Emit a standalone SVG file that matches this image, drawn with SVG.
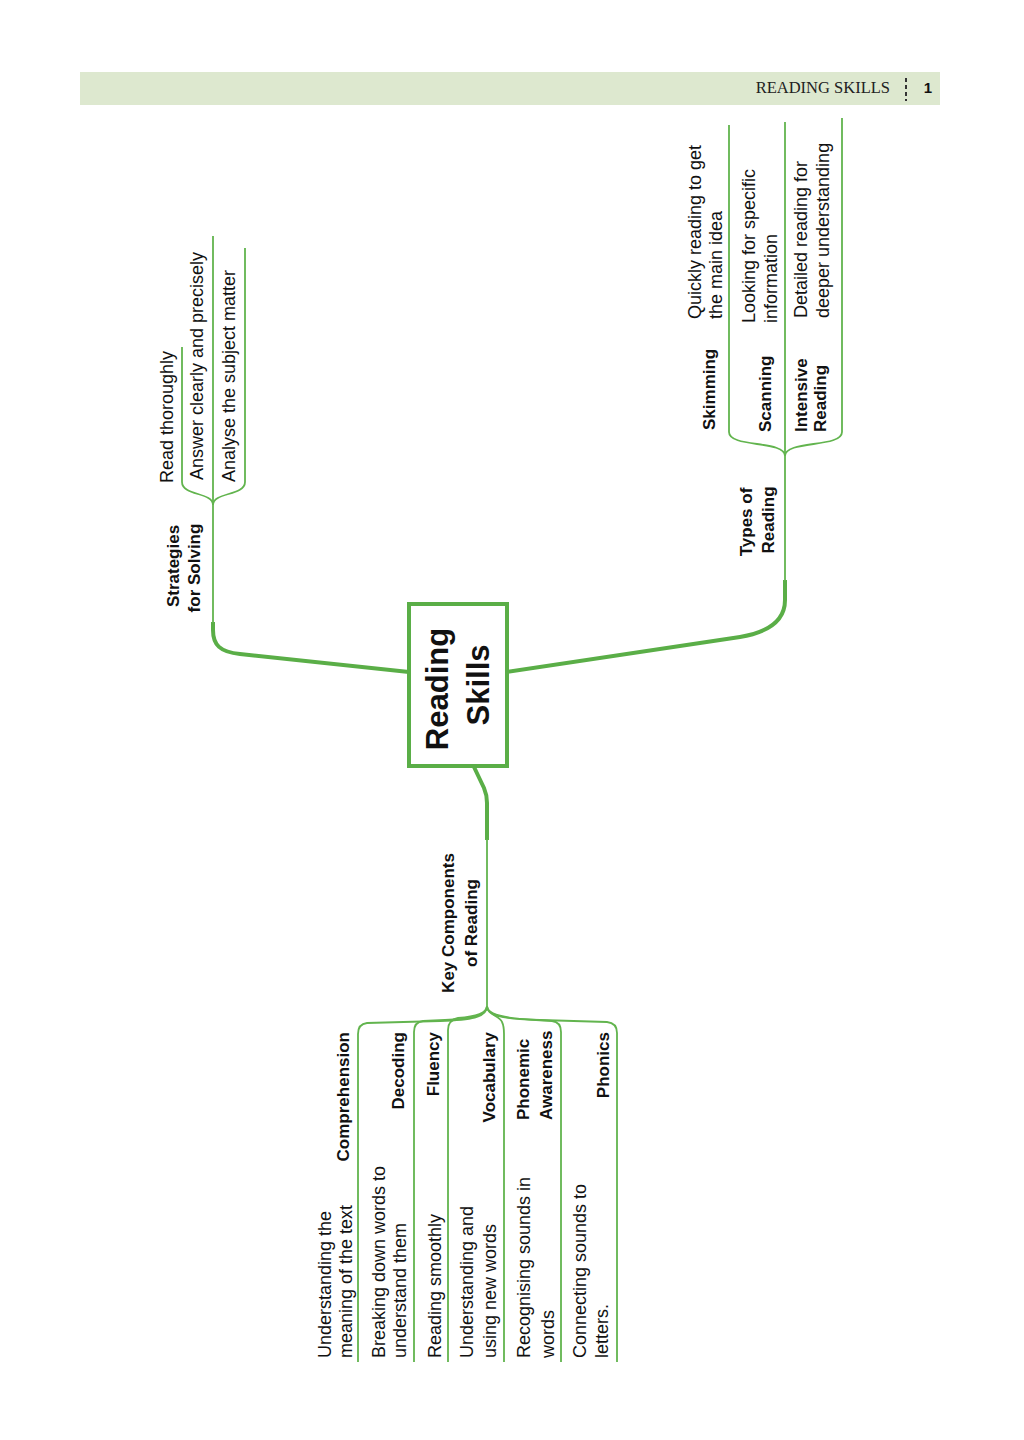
<svg xmlns="http://www.w3.org/2000/svg" width="1024" height="1440" viewBox="0 0 1024 1440">
<style>
.thick{fill:none;stroke:#5aae47;stroke-width:4;stroke-linecap:butt;stroke-linejoin:round}
.thin{fill:none;stroke:#62b44e;stroke-width:1.8}
.c{font-family:"Liberation Sans",Arial,sans-serif;font-size:31px;font-weight:bold;fill:#111;text-anchor:middle}
.h{font-family:"Liberation Sans",Arial,sans-serif;font-size:17px;font-weight:bold;fill:#111;text-anchor:middle}
.l{font-family:"Liberation Sans",Arial,sans-serif;font-size:17px;font-weight:bold;fill:#111}
.le{font-family:"Liberation Sans",Arial,sans-serif;font-size:17px;font-weight:bold;fill:#111;text-anchor:end}
.d{font-family:"Liberation Sans",Arial,sans-serif;font-size:18px;fill:#111}
</style>
<rect x="0" y="0" width="1024" height="1440" fill="#ffffff"/>
<g id="header">
<rect x="80" y="72" width="860" height="33" fill="#dde8cf"/>
<text x="890" y="93" font-family="Liberation Serif,'Times New Roman',serif" font-size="16.5" fill="#222" text-anchor="end">READING SKILLS</text>
<line x1="906" y1="78" x2="906" y2="101" stroke="#333" stroke-width="2" stroke-dasharray="4,3"/>
<text x="928" y="93" font-family="Liberation Sans,Arial,sans-serif" font-size="15" font-weight="bold" fill="#111" text-anchor="middle">1</text>
</g>
<g id="connectors">
<path class="thick" d="M409,672 L240,654 C220,652 213,645 213,630 L213,622"/>
<path class="thin" d="M213,623 L213,236"/>
<path class="thin" d="M213,505 C213,492 182,496 182,482 L182,347"/>
<path class="thin" d="M213,505 C213,492 245,496 245,482 L245,248"/>
<path class="thick" d="M507,672 L740,637 C770,632 785,620 785,600 L785,580"/>
<path class="thin" d="M785,581 L785,122"/>
<path class="thin" d="M785,456 C785,440 729,448 729,432 L729,125"/>
<path class="thin" d="M785,456 C785,440 842,448 842,432 L842,118"/>
<path class="thick" d="M474,767 L484,788 Q487,795 487,803 L487,840"/>
<path class="thin" d="M487,839 L487,1006"/>
<path class="thin" d="M487,1006 C487,1018 470,1020 440,1021 L367,1023 Q358,1024 358,1034 L358,1362"/>
<path class="thin" d="M487,1006 C487,1016 470,1019 445,1020 L423,1021 Q414,1022 414,1032 L414,1362"/>
<path class="thin" d="M487,1006 C487,1014 470,1017 458,1018 Q448,1020 448,1030 L448,1362"/>
<path class="thin" d="M487,1006 C487,1015 500,1016 502,1022 Q504,1026 504,1034 L504,1362"/>
<path class="thin" d="M487,1006 C487,1016 505,1018 520,1019 L552,1021 Q561,1022 561,1032 L561,1362"/>
<path class="thin" d="M487,1006 C487,1016 510,1019 540,1020 L607,1022 Q617,1023 617,1033 L617,1362"/>
</g>
<g id="center">
<rect x="409" y="604" width="98" height="162" fill="#fff" stroke="#5aae47" stroke-width="4"/>
<text class="c" transform="translate(448,689) rotate(-90)">Reading</text>
<text class="c" transform="translate(489,685) rotate(-90)">Skills</text>
</g>
<g id="strategies">
<text class="h" transform="translate(179,566) rotate(-90)">Strategies</text>
<text class="h" transform="translate(200,568) rotate(-90)">for Solving</text>
</g>
<g id="read-thoroughly"><text class="d" transform="translate(173,483) rotate(-90)">Read thoroughly</text></g>
<g id="answer-clearly"><text class="d" transform="translate(203,480) rotate(-90)">Answer clearly and precisely</text></g>
<g id="analyse"><text class="d" transform="translate(235,482) rotate(-90)">Analyse the subject matter</text></g>
<g id="types">
<text class="h" transform="translate(752,522) rotate(-90)">Types of</text>
<text class="h" transform="translate(774,520) rotate(-90)">Reading</text>
</g>
<g id="skimming">
<text class="l" transform="translate(715,430) rotate(-90)">Skimming</text>
<text class="d" transform="translate(701,319) rotate(-90)">Quickly reading to get</text>
<text class="d" transform="translate(722,319) rotate(-90)">the main idea</text>
</g>
<g id="scanning">
<text class="l" transform="translate(771,432) rotate(-90)">Scanning</text>
<text class="d" transform="translate(755,323) rotate(-90)">Looking for specific</text>
<text class="d" transform="translate(777,323) rotate(-90)">information</text>
</g>
<g id="intensive">
<text class="l" transform="translate(807,432) rotate(-90)">Intensive</text>
<text class="l" transform="translate(826,432) rotate(-90)">Reading</text>
<text class="d" transform="translate(807,318) rotate(-90)">Detailed reading for</text>
<text class="d" transform="translate(829,318) rotate(-90)">deeper understanding</text>
</g>
<g id="key-components">
<text class="h" transform="translate(454,923) rotate(-90)">Key Components</text>
<text class="h" transform="translate(477,923) rotate(-90)">of Reading</text>
</g>
<g id="comprehension">
<text class="le" transform="translate(349,1032) rotate(-90)">Comprehension</text>
<text class="d" transform="translate(331,1358) rotate(-90)">Understanding the</text>
<text class="d" transform="translate(352,1358) rotate(-90)">meaning of the text</text>
</g>
<g id="decoding">
<text class="le" transform="translate(404,1032) rotate(-90)">Decoding</text>
<text class="d" transform="translate(385,1358) rotate(-90)">Breaking down words to</text>
<text class="d" transform="translate(406,1358) rotate(-90)">understand them</text>
</g>
<g id="fluency">
<text class="le" transform="translate(439,1032) rotate(-90)">Fluency</text>
<text class="d" transform="translate(441,1358) rotate(-90)">Reading smoothly</text>
</g>
<g id="vocabulary">
<text class="le" transform="translate(495,1032) rotate(-90)">Vocabulary</text>
<text class="d" transform="translate(473,1358) rotate(-90)">Understanding and</text>
<text class="d" transform="translate(496,1358) rotate(-90)">using new words</text>
</g>
<g id="phonemic-awareness">
<text class="l" transform="translate(529,1120) rotate(-90)">Phonemic</text>
<text class="l" transform="translate(552,1120) rotate(-90)">Awareness</text>
<text class="d" transform="translate(530,1358) rotate(-90)">Recognising sounds in</text>
<text class="d" transform="translate(554,1358) rotate(-90)">words</text>
</g>
<g id="phonics">
<text class="le" transform="translate(609,1032) rotate(-90)">Phonics</text>
<text class="d" transform="translate(586,1358) rotate(-90)">Connecting sounds to</text>
<text class="d" transform="translate(608,1358) rotate(-90)">letters.</text>
</g>
</svg>
